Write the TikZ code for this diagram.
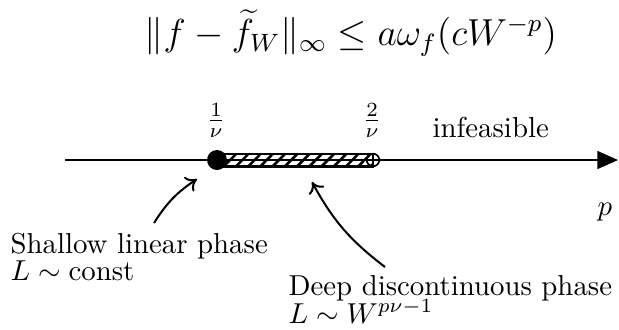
\documentclass[tikz,border=0pt]{standalone}
\usepackage{graphicx}
\usetikzlibrary{arrows.meta,patterns.meta}
\begin{document}
\begin{tikzpicture}[x=0.347pt,y=-0.347pt,
  lbl/.style={inner sep=0pt,anchor=base west},
  ptr/.style={-{To[length=3.6pt,width=6pt]},line width=0.7pt},
  axisline/.style={line width=0.75pt,-{Triangle[length=7.2pt,width=6.2pt]}}]
\useasboundingbox (0,0) rectangle (619,329);
\node[inner sep=0pt] (formula) at (351,33) {\resizebox{143pt}{!}{\large $\|f-\widetilde{f}_W\|_\infty \le a\omega_f(cW^{-p})$}};
\coordinate (axL) at (65,160);
\coordinate (axR) at (618,160);
\coordinate (a) at (217,160);
\coordinate (b) at (373,160);
\draw[axisline] (axL) -- (axR);
\draw[line width=0.75pt,pattern={Lines[angle=45,distance=3pt,line width=0.9pt]}]
  (217,154) rectangle (373,166.5);
\draw[line width=0.6pt] (b) circle[radius=6.3];
\fill (a) circle[radius=10];
\node[anchor=base] (f1) at (216,128) {$\frac{1}{\nu}$};
\node[anchor=base] (f2) at (372,128) {$\frac{2}{\nu}$};
\node[lbl] (inf) at (432,137) {infeasible};
\node[lbl] (p) at (597,215) {$p$};
\node[lbl] (sh1) at (10,253) {Shallow linear phase};
\node[lbl] (sh2) at (10,280) {$L\sim\mathrm{const}$};
\node[lbl] (dp1) at (288,295) {Deep discontinuous phase};
\node[lbl] (dp2) at (288,323) {$L\sim W^{p\nu-1}$};
\coordinate (s1) at (154,223);
\coordinate (e1) at (197,179);
\draw[ptr] (s1) to[bend left=12] (e1);
\coordinate (s2) at (385,267);
\coordinate (e2) at (312,182);
\draw[ptr] (s2) to[bend left=12] (e2);
\end{tikzpicture}
\end{document}
